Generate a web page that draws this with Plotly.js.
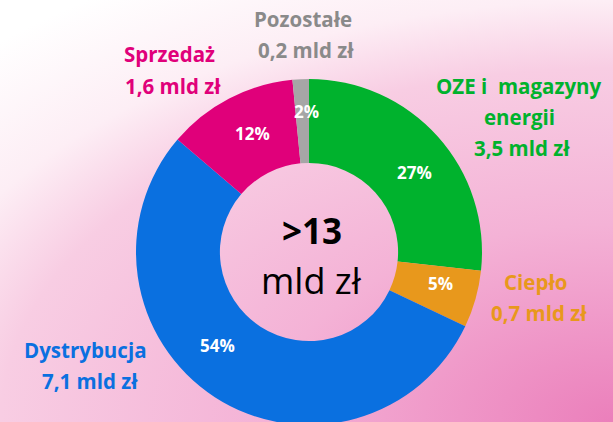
<!DOCTYPE html>
<html>
<head>
<meta charset="utf-8">
<script src="https://cdn.plot.ly/plotly-3.0.1.min.js"></script>
<style>
html, body { margin: 0; padding: 0; width: 613px; height: 422px; overflow: hidden; }
#wrap { width: 613px; height: 422px; overflow: hidden;
  background: radial-gradient(ellipse 900px 520px at 100% 100%, #eb7fbb 0%, #f4b2d6 38%, #f8cde3 68%, #fdeef5 81%, #ffffff 100%); }
#chart { width: 613px; height: 520px; }
</style>
</head>
<body>
<div id="wrap"><div id="chart"></div></div>
<script>
// ---- data ----
const categories = ['OZE i  magazyny energii', 'Ciepło', 'Dystrybucja', 'Sprzedaż', 'Pozostałe'];
const values = [3.5, 0.7, 7.1, 1.6, 0.2];
const labelLines = [['OZE i\u00a0 magazyny', 'energii'], ['Ciepło'], ['Dystrybucja'], ['Sprzedaż'], ['Pozostałe']];
const colors = ['#00b22d', '#e8981c', '#0a70e0', '#e0007a', '#a6a6a6'];
const labelColors = ['#00b22d', '#e8981c', '#0a70e0', '#e0007a', '#8a8a8a'];
const centerTitle = '>13';
const centerUnit = 'mld zł';

// ---- layout helpers (pixel positions only) ----
const W = 613, H = 520;
const px = (x) => x / W;
const py = (y) => (H - y) / H;
const FONT = '"Open Sans", sans-serif';

const total = values.reduce((a, b) => a + b, 0);
const valueText = values.map(v => v.toFixed(1).replace('.', ',') + ' mld zł');
const pctText = values.map(v => Math.round(v / total * 100) + '%');

// label line positions (pixel centers), per category
const labelPos = [
  [[519, 86], [519, 117], [522, 148]],
  [[535, 282], [539, 313]],
  [[85, 350], [90, 381]],
  [[169, 54], [173, 86]],
  [[303, 19], [306, 50]]
];
// percentage label positions (pixel centers), per category
const pctPos = [[414, 172], [440, 283], [217, 345], [252, 133], [306, 111]];

const annotations = [];
categories.forEach((c, i) => {
  const lines = labelLines[i].concat([valueText[i]]);
  lines.forEach((t, j) => {
    const p = labelPos[i][j];
    annotations.push({
      text: t, x: px(p[0]), y: py(p[1]), xref: 'paper', yref: 'paper',
      xanchor: 'center', yanchor: 'middle', showarrow: false,
      font: { family: FONT, size: 20.5, weight: 'bold', color: labelColors[i] }
    });
  });
  annotations.push({
    text: pctText[i], x: px(pctPos[i][0]), y: py(pctPos[i][1]), xref: 'paper', yref: 'paper',
    xanchor: 'center', yanchor: 'middle', showarrow: false,
    font: { family: FONT, size: 17, weight: 'bold', color: '#ffffff' }
  });
});
annotations.push({
  text: centerTitle, x: px(312), y: py(230), xref: 'paper', yref: 'paper',
  xanchor: 'center', yanchor: 'middle', showarrow: false,
  font: { family: FONT, size: 35, weight: 'bold', color: '#000' }
});
annotations.push({
  text: centerUnit, x: px(311), y: py(280), xref: 'paper', yref: 'paper',
  xanchor: 'center', yanchor: 'middle', showarrow: false,
  font: { family: FONT, size: 36, color: '#000' }
});

const trace = {
  type: 'pie',
  labels: categories,
  values: values,
  hole: 0.515,
  sort: false,
  direction: 'clockwise',
  rotation: 0,
  marker: { colors: colors, line: { width: 0 } },
  textinfo: 'none',
  domain: { x: [px(136), px(482)], y: [py(425), py(79)] },
  showlegend: false,
  hoverinfo: 'none'
};

const layout = {
  width: W, height: H,
  margin: { l: 0, r: 0, t: 0, b: 0 },
  paper_bgcolor: 'rgba(0,0,0,0)',
  plot_bgcolor: 'rgba(0,0,0,0)',
  showlegend: false,
  annotations: annotations
};

Plotly.newPlot('chart', [trace], layout, { displayModeBar: false, staticPlot: true });
</script>
</body>
</html>
